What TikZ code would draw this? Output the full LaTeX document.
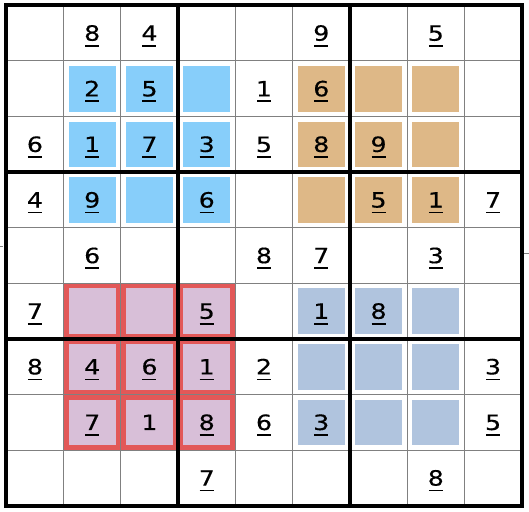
\documentclass[tikz,border=0pt]{standalone}
\usepackage{fontspec}
\setmainfont{DejaVu Sans}[FakeStretch=1.2,FakeBold=0.4]
\definecolor{boxblue}{RGB}{135,206,250}
\definecolor{boxtan}{RGB}{222,184,135}
\definecolor{boxsteel}{RGB}{176,196,222}
\definecolor{boxpink}{RGB}{216,191,216}
\definecolor{boxred}{RGB}{226,88,88}
\begin{document}
\begin{tikzpicture}[x=57.27pt,y=-55.61pt,
  thinline/.style={line width=1pt,black!50},
  thickline/.style={line width=4pt,black},
  digit/.style={inner sep=0pt,anchor=base,font=\fontsize{21}{24}\selectfont},
  uline/.style={line width=1.7pt}]
\useasboundingbox (-6.3pt,5.3pt) rectangle (522.7pt,-505.7pt);
\fill[white] (-6.3pt,5.3pt) rectangle (522.7pt,-505.7pt);
\foreach \cl/\rw/\col in {1/1/boxblue,2/1/boxblue,3/1/boxblue,1/2/boxblue,2/2/boxblue,3/2/boxblue,
  1/3/boxblue,2/3/boxblue,3/3/boxblue,5/1/boxtan,6/1/boxtan,7/1/boxtan,5/2/boxtan,6/2/boxtan,
  7/2/boxtan,5/3/boxtan,6/3/boxtan,7/3/boxtan,5/5/boxsteel,6/5/boxsteel,7/5/boxsteel,
  5/6/boxsteel,6/6/boxsteel,7/6/boxsteel,5/7/boxsteel,6/7/boxsteel,7/7/boxsteel} {
\fill[\col] ([shift={(5pt,-5pt)}]\cl,\rw) rectangle ([shift={(-5pt,5pt)}]\cl+1,\rw+1);
}
\foreach \cl/\rw in {1/5,2/5,3/5,1/6,2/6,3/6,1/7,2/7,3/7} {
\fill[boxred] (\cl,\rw) rectangle (\cl+1,\rw+1);
\fill[boxpink] ([shift={(5pt,-5pt)}]\cl,\rw) rectangle ([shift={(-5pt,5pt)}]\cl+1,\rw+1);
}
\foreach \i in {1,...,8} {
\draw[thinline] (\i,0) -- (\i,9);
\draw[thinline] (0,\i) -- (9,\i);
}
\draw[thinline] (-6.3pt,-241.4pt) -- (-3pt,-241.4pt);
\draw[thinline] (517pt,-247.7pt) -- (522.7pt,-247.7pt);
\draw[thickline] (0,0) rectangle (9,9);
\foreach \i in {3,6} {
\draw[thickline] (\i,0) -- (\i,9);
\draw[thickline] (0,\i) -- (9,\i);
}
\foreach \cl/\rw/\num/\ul in {1/0/8/1,2/0/4/1,5/0/9/1,7/0/5/1,
  1/1/2/1,2/1/5/1,4/1/1/1,5/1/6/1,
  0/2/6/1,1/2/1/1,2/2/7/1,3/2/3/1,4/2/5/1,5/2/8/1,6/2/9/1,
  0/3/4/1,1/3/9/1,3/3/6/1,6/3/5/1,7/3/1/1,8/3/7/1,
  1/4/6/1,4/4/8/1,5/4/7/1,7/4/3/1,
  0/5/7/1,3/5/5/1,5/5/1/1,6/5/8/1,
  0/6/8/1,1/6/4/1,2/6/6/1,3/6/1/1,4/6/2/1,8/6/3/1,
  1/7/7/1,2/7/1/0,3/7/8/1,4/7/6/1,5/7/3/1,8/7/5/1,
  3/8/7/1,7/8/8/1} {
\node[digit] (d\cl\rw) at ([yshift=-7.6pt]\cl+0.5,\rw+0.5) {\num};
\ifnum\ul=1 \draw[uline] ([xshift=-7pt,yshift=-5pt]d\cl\rw.base) -- ([xshift=7pt,yshift=-5pt]d\cl\rw.base);\fi
}
\end{tikzpicture}
\end{document}
